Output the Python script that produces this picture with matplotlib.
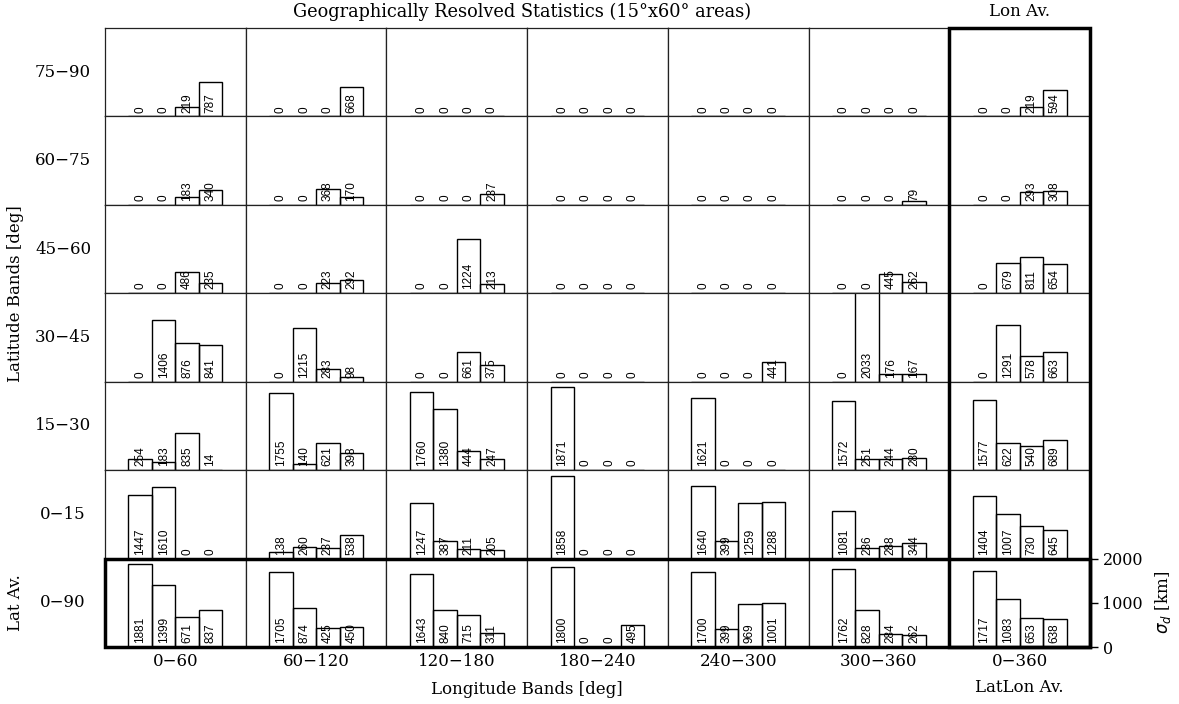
import numpy as np
import matplotlib
matplotlib.use("Agg")
import matplotlib.pyplot as plt
from matplotlib.patches import Rectangle

# row labels (top -> bottom), column labels (left -> right)
lat_bands = ["75\u221290", "60\u221275", "45\u221260", "30\u221245", "15\u221230", "0\u221215", "0\u221290"]
lon_bands = ["0\u221260", "60\u2212120", "120\u2212180", "180\u2212240", "240\u2212300", "300\u2212360", "0\u2212360"]

# sigma_d [km], 4 bars per cell, one list per latitude row
row_75_90 = [[0, 0, 219, 787], [0, 0, 0, 668], [0, 0, 0, 0], [0, 0, 0, 0],
             [0, 0, 0, 0], [0, 0, 0, 0], [0, 0, 219, 594]]
row_60_75 = [[0, 0, 183, 340], [0, 0, 368, 170], [0, 0, 0, 237], [0, 0, 0, 0],
             [0, 0, 0, 0], [0, 0, 0, 79], [0, 0, 293, 308]]
row_45_60 = [[0, 0, 486, 235], [0, 0, 223, 292], [0, 0, 1224, 213], [0, 0, 0, 0],
             [0, 0, 0, 0], [0, 0, 445, 262], [0, 679, 811, 654]]
row_30_45 = [[0, 1406, 876, 841], [0, 1215, 283, 98], [0, 0, 661, 375], [0, 0, 0, 0],
             [0, 0, 0, 441], [0, 2033, 176, 167], [0, 1291, 578, 663]]
row_15_30 = [[254, 183, 835, 14], [1755, 140, 621, 398], [1760, 1380, 444, 247], [1871, 0, 0, 0],
             [1621, 0, 0, 0], [1572, 251, 244, 280], [1577, 622, 540, 689]]
row_0_15 = [[1447, 1610, 0, 0], [138, 260, 237, 538], [1247, 387, 211, 205], [1858, 0, 0, 0],
            [1640, 399, 1259, 1288], [1081, 236, 288, 344], [1404, 1007, 730, 645]]
row_lat_av = [[1881, 1399, 671, 837], [1705, 874, 425, 450], [1643, 840, 715, 311], [1800, 0, 0, 495],
              [1700, 399, 969, 1001], [1762, 828, 284, 262], [1717, 1083, 653, 638]]

rows = [row_75_90, row_60_75, row_45_60, row_30_45, row_15_30, row_0_15, row_lat_av]

W, H = 1179, 704
fig = plt.figure(figsize=(W / 100, H / 100), dpi=100)

serif = "DejaVu Serif"
fs = 12
left, right, top, bottom = 105, 1090, 28, 647
cw = (right - left) / 7
rh = (bottom - top) / 7

def fx(px):
    return px / W

def fy(py):
    return 1 - py / H

xpos = np.array([1.5, 2.5, 3.5, 4.5])

for i, row in enumerate(rows):
    for j, vals in enumerate(row):
        x0 = left + j * cw
        y0 = top + (i + 1) * rh
        ax = fig.add_axes([fx(x0), fy(y0), cw / W, rh / H])
        ax.bar(xpos, vals, width=1.0, fill=False, edgecolor="black", linewidth=1.0)
        for xx, v in zip(xpos, vals):
            ax.annotate(str(v), (xx, 0), xytext=(0, 2.8), textcoords="offset points",
                        rotation=90, ha="center", va="bottom", fontsize=8.5,
                        family="Liberation Sans", annotation_clip=False)
        ax.set_xlim(0, 6)
        ax.set_ylim(0, 2000)
        ax.set_xticks([])
        ax.set_yticks([])
        for sp in ax.spines.values():
            sp.set_linewidth(0.9)
            sp.set_color("#222222")
        if i == 6 and j == 6:
            ax.yaxis.tick_right()
            ax.set_yticks([0, 1000, 2000])
            ax.tick_params(axis="y", direction="out", length=6, width=1, pad=3)
            for lab in ax.get_yticklabels():
                lab.set_family(serif)
                lab.set_fontsize(11.5)

# thick boxes: Lon Av. column and Lat Av. row
fig.patches.append(Rectangle((fx(left + 6 * cw), fy(bottom)), cw / W, (bottom - top) / H,
                             transform=fig.transFigure, fill=False, edgecolor="black", linewidth=2.5))
fig.patches.append(Rectangle((fx(left), fy(bottom)), (right - left) / W, rh / H,
                             transform=fig.transFigure, fill=False, edgecolor="black", linewidth=2.5))

# row labels
for i, lab in enumerate(lat_bands):
    fig.text(fx(63), fy(top + (i + 0.5) * rh), lab, ha="center", va="center",
             fontsize=fs, family=serif)
fig.text(fx(16), fy(top + 6.5 * rh), "Lat Av.", rotation=90, ha="center", va="center",
         fontsize=fs, family=serif)
fig.text(fx(16), fy(top + 3 * rh), "Latitude Bands [deg]", rotation=90, ha="center", va="center",
         fontsize=fs, family=serif)

# column labels
for j, lab in enumerate(lon_bands):
    fig.text(fx(left + (j + 0.5) * cw), fy(661), lab, ha="center", va="center",
             fontsize=fs, family=serif)
fig.text(fx(left + 3 * cw), fy(689), "Longitude Bands [deg]", ha="center", va="center",
         fontsize=fs, family=serif)
fig.text(fx(left + 6.5 * cw), fy(688), "LatLon Av.", ha="center", va="center",
         fontsize=fs, family=serif)

fig.text(fx(522), fy(12), "Geographically Resolved Statistics (15\u00b0x60\u00b0 areas)",
         ha="center", va="center", fontsize=12.8, family=serif)
fig.text(fx(left + 6.5 * cw), fy(12), "Lon Av.", ha="center", va="center",
         fontsize=fs, family=serif)

fig.text(fx(1163), fy(top + 6.5 * rh), r"$\sigma_d$ [km]", rotation=90, ha="center", va="center",
         fontsize=fs, family=serif)

fig.savefig("out.png", dpi=100)
